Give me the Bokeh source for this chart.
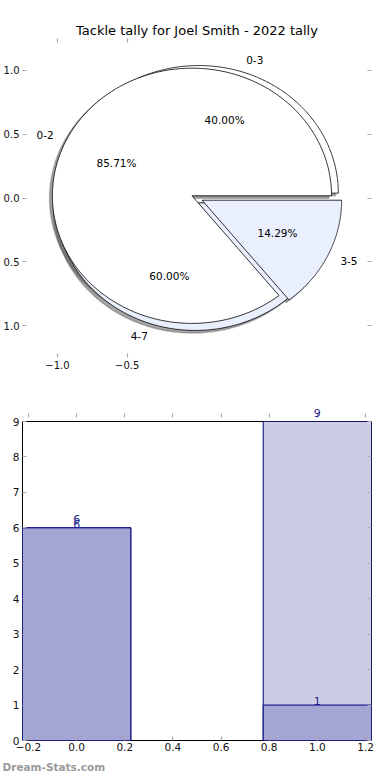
import numpy as np
from bokeh.plotting import figure
from bokeh.models import (Range1d, FixedTicker, LinearAxis, Label, Title,
                          ColumnDataSource)
from bokeh.core.properties import value
from bokeh.layouts import column
from bokeh.embed import file_html
from bokeh.resources import INLINE

# ---------------- data ----------------
title_text = "Tackle tally for Joel Smith - 2022 tally"
pie1_labels = ["0-2", "3-5"]
pie1_values = [6, 1]
pie2_labels = ["0-3", "4-7"]
pie2_values = [6, 9]
pie_colors = ["#ffffff", "#e9effc"]

bar_x = [0, 1]
bar_light = [6, 9]
bar_dark = [6, 1]

pie_yticks = [-1.0, -0.5, 0.0, 0.5, 1.0]
pie_ytick_text = ["1.0", "0.5", "0.0", "0.5", "1.0"]
pie_xticks = [-1.0, -0.5]
pie_xtick_text = ["\u22121.0", "\u22120.5"]
bar_xticks = [-0.2, 0.0, 0.2, 0.4, 0.6, 0.8, 1.0, 1.2]
bar_yticks = list(range(0, 10))
watermark = "Dream-Stats.com"

EXPLODE = 0.04
FONT = "DejaVu Sans"
TICK_GRAY = "#a8a8a8"
NAVY = "#000080"
LABEL_NAVY = "#1a1a8a"
BAR_YMAX = 9


def pie_parts(values, labels, colors, explode):
    total = float(sum(values))
    start = 0.0
    wedges = dict(xs=[], ys=[], color=[])
    shadows = dict(xs=[], ys=[])
    lab = dict(x=[], y=[], text=[], align=[])
    pct = dict(x=[], y=[], text=[])
    for v, l, c in zip(values, labels, colors):
        frac = v / total
        t1 = 2 * np.pi * start
        t2 = 2 * np.pi * (start + frac)
        tm = 0.5 * (t1 + t2)
        cx = explode * np.cos(tm)
        cy = explode * np.sin(tm)
        th = np.linspace(t1, t2, 240)
        xs = [cx] + list(cx + np.cos(th)) + [cx]
        ys = [cy] + list(cy + np.sin(th)) + [cy]
        wedges["xs"].append(xs)
        wedges["ys"].append(ys)
        wedges["color"].append(c)
        shadows["xs"].append([x - 0.02 for x in xs])
        shadows["ys"].append([y - 0.02 for y in ys])
        lab["x"].append(cx + 1.1 * np.cos(tm))
        lab["y"].append(cy + 1.1 * np.sin(tm))
        lab["text"].append(l)
        lab["align"].append("left" if np.cos(tm) > 0 else "right")
        pct["x"].append(cx + 0.6 * np.cos(tm))
        pct["y"].append(cy + 0.6 * np.sin(tm))
        pct["text"].append("%.2f%%" % (100 * frac))
        start += frac
    return wedges, shadows, lab, pct


def style_axis(ax, ticks, overrides, show_labels=True, size="10px", standoff=3):
    ax.ticker = FixedTicker(ticks=ticks)
    ax.major_label_overrides = overrides
    ax.axis_line_color = None
    ax.major_tick_in = 4
    ax.major_tick_out = 0
    ax.major_tick_line_color = TICK_GRAY
    ax.major_tick_line_width = 1.2
    ax.minor_tick_line_color = None
    ax.major_label_text_font = FONT
    ax.major_label_text_font_size = size
    if show_labels:
        ax.major_label_text_color = "#111111"
        ax.major_label_standoff = standoff
    else:
        ax.major_label_text_color = None
        ax.major_label_standoff = 0


# ---------------- pie figure ----------------
p1 = figure(width=390, height=383, output_backend="svg", toolbar_location=None,
            x_range=Range1d(-1.25, 1.25), y_range=Range1d(-1.25, 1.25),
            min_border_left=20, min_border_right=19, min_border_top=38,
            min_border_bottom=26, x_axis_location=None, y_axis_location=None)
p1.title.text = title_text
p1.title.text_font = FONT
p1.title.text_font_size = "13px"
p1.title.text_font_style = "normal"
p1.title.text_color = "black"
p1.title.align = "center"
p1.title.standoff = 2
p1.outline_line_color = None
p1.xgrid.visible = False
p1.ygrid.visible = False

pie2 = pie_parts(pie2_values, pie2_labels, pie_colors, EXPLODE)
pie1 = pie_parts(pie1_values, pie1_labels, pie_colors, EXPLODE)

for sh in (pie2[1], pie1[1]):
    p1.patches(xs="xs", ys="ys", source=ColumnDataSource(sh),
               fill_color="#4d4d4d", fill_alpha=0.5,
               line_color="#4d4d4d", line_alpha=0.35, line_width=1.5)
for pie in (pie2, pie1):
    w = pie[0]
    p1.patches(xs="xs", ys="ys", source=ColumnDataSource(w),
               fill_color="color", line_color="black", line_width=0.8)
for pie in (pie2, pie1):
    lab, pct = pie[2], pie[3]
    p1.text(x="x", y="y", text="text", text_align="align",
            text_baseline="middle", source=ColumnDataSource(lab),
            text_font=value(FONT), text_font_size="10.5px", text_color="black")
    p1.text(x="x", y="y", text="text", text_align="center",
            text_baseline="middle", source=ColumnDataSource(pct),
            text_font=value(FONT), text_font_size="10.5px", text_color="black")

yov = {t: s for t, s in zip(pie_yticks, pie_ytick_text)}
xov = {t: s for t, s in zip(pie_xticks, pie_xtick_text)}
ax = LinearAxis(); style_axis(ax, pie_yticks, yov, standoff=3); p1.add_layout(ax, "left")
ax = LinearAxis(); style_axis(ax, pie_yticks, {}, False); p1.add_layout(ax, "right")
ax = LinearAxis(); style_axis(ax, pie_xticks, xov, standoff=3); p1.add_layout(ax, "below")
ax = LinearAxis(); style_axis(ax, pie_xticks, {}, False); p1.add_layout(ax, "above")

# ---------------- bar figure ----------------
p2 = figure(width=390, height=395, output_backend="svg", toolbar_location=None,
            x_range=Range1d(-0.225, 1.225), y_range=Range1d(0, BAR_YMAX),
            min_border_left=20, min_border_right=19, min_border_top=38,
            min_border_bottom=38, x_axis_location=None, y_axis_location=None)
p2.outline_line_color = "black"
p2.outline_line_width = 1
p2.xgrid.visible = False
p2.ygrid.visible = False

p2.vbar(x=bar_x, top=bar_light, width=0.45, fill_color="#cccde4",
        line_color=NAVY, line_width=1)
p2.vbar(x=bar_x, top=bar_dark, width=0.45, fill_color="#a3a5d2",
        line_color=NAVY, line_width=1)

# value labels: those sitting on the top edge go in the panel above the frame
for xv, yv in zip(bar_x, bar_light):
    lbl = Label(x=xv, y=yv, text=str(yv), y_offset=5,
                text_align="center", text_baseline="bottom",
                text_font=FONT, text_font_size="11px", text_color=LABEL_NAVY)
    p2.add_layout(lbl, "above" if yv >= BAR_YMAX else "center")
for xv, yv in zip(bar_x, bar_dark):
    p2.add_layout(Label(x=xv, y=yv, text=str(yv), y_offset=0,
                        text_align="center", text_baseline="bottom",
                        text_font=FONT, text_font_size="11px",
                        text_color=LABEL_NAVY))

bxov = {t: ("%.1f" % t).replace("-", "\u2212") for t in bar_xticks}
byov = {t: str(t) for t in bar_yticks}
ax = LinearAxis(); style_axis(ax, bar_yticks, byov, size="10.5px", standoff=3)
p2.add_layout(ax, "left")
ax = LinearAxis(); style_axis(ax, bar_yticks, {}, False); p2.add_layout(ax, "right")
ax = LinearAxis(); style_axis(ax, bar_xticks, bxov, size="10.5px", standoff=2)
p2.add_layout(ax, "below")
ax = LinearAxis(); style_axis(ax, bar_xticks, {}, False); p2.add_layout(ax, "above")

wm = Title(text=watermark, align="left", offset=-20, standoff=10,
           text_font=FONT, text_font_size="10.5px", text_font_style="bold",
           text_color="#9a9a9a")
p2.add_layout(wm, "below")

layout = column(p1, p2)
open("out.html", "w").write(file_html(layout, INLINE))
